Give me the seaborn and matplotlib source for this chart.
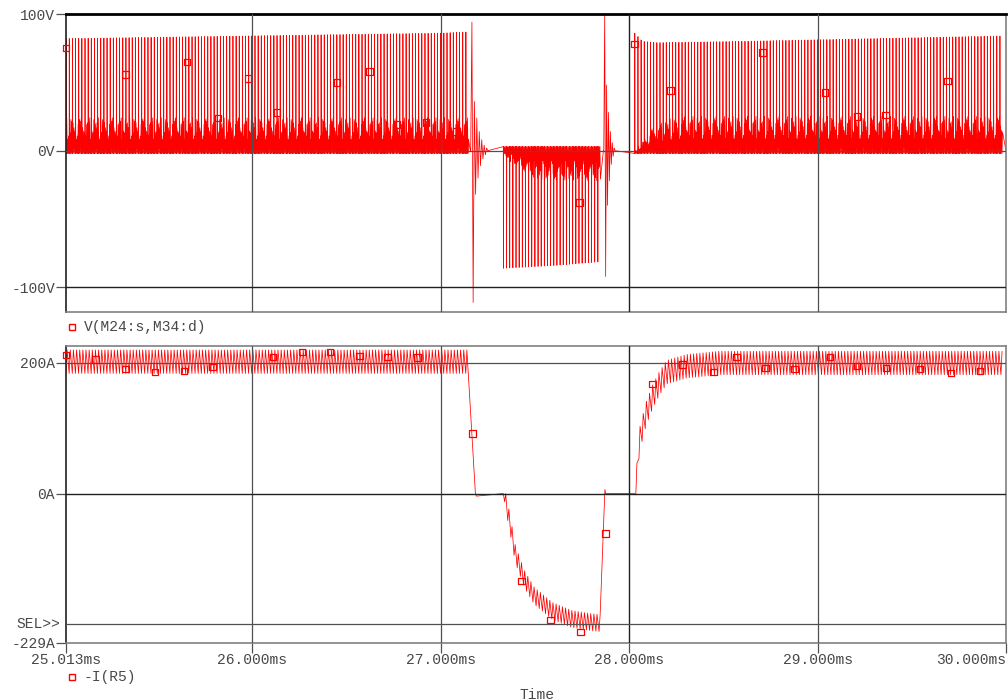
import numpy as np
import pandas as pd
import matplotlib
matplotlib.use("Agg")
import matplotlib.pyplot as plt
import seaborn as sns
from matplotlib.lines import Line2D

# =========================
# DATA
# =========================

T_START = 25.013
T_END = 30.0
SW_PERIOD = 0.0167          # ms, ~60 pulses per ms counted on the plot

# --- V(M24:s,M34:d) : switching blocks ---
v_blk_start = [25.013, 27.333, 28.030]
v_blk_end = [27.158, 27.864, 30.000]
v_base = [-2.0, 3.0, -2.0]
v_peak_t = [[25.013, 26.0, 27.0, 27.158],
            [27.333, 27.6, 27.864],
            [28.030, 28.07, 28.15, 28.6, 29.3, 30.0]]
v_peak_v = [[82, 84, 86, 87],
            [-86, -84, -81],
            [86, 80, 79, 80, 82, 84]]
v_band_t = [[25.013, 27.158],
            [27.333, 27.40, 27.50, 27.864],
            [28.030, 28.11, 28.20, 28.30, 30.0]]
v_band_v = [[24, 24],
            [-4, -12, -21, -22],
            [0, 16, 23, 25, 25]]
band_pattern = [1.0, 0.55, 0.85, 0.35, 0.95, 0.7, 0.45, 0.9, 0.6, 0.8]

# --- V : ringing at the two commutations ---
ring_t0 = [27.160, 27.866]
ring_dt = [0.0065, 0.005]
ring_v = [[0, 94, -111, 36, -32, 24, -20, 14, -11, 8, -6, 4, -3, 2, 0],
          [0, 100, -92, 48, -40, 28, -22, 14, -10, 6, -4, 2, 0]]

# --- -I(R5) : mean current and ripple ---
i_mean_t = [25.013, 27.165, 27.185, 27.190, 27.333, 27.340, 27.365, 27.397,
            27.445, 27.498, 27.594, 27.695, 27.796, 27.865, 27.872, 27.876,
            28.030, 28.036, 28.045, 28.056, 28.090, 28.125, 28.160, 28.200,
            28.305, 28.480, 30.0]
i_mean_v = [202, 202, 0, -4, 0, -5, -40, -93,
            -131, -157, -180, -192, -197, -199, 6, 0,
            0, 5, 47, 82, 122, 148, 168, 186,
            195, 200, 200]
i_rip_t = [25.013, 27.165, 27.185, 27.333, 27.345, 27.865, 27.872, 28.030, 28.045, 30.0]
i_rip_v = [18, 18, 0, 0, 13, 13, 0, 0, 18, 18]
i_sw_start = [25.013, 27.340, 28.036]
i_sw_end = [27.165, 27.865, 30.0]

# --- trace markers (hollow squares) ---
v_mark_t = [25.013, 25.330, 25.655, 25.820, 25.979, 26.133, 26.452, 26.622,
            26.770, 26.924, 27.084, 27.737, 28.030, 28.220, 28.385, 28.550,
            28.709, 28.890, 29.040, 29.210, 29.360, 29.690, 29.850, 29.850]
v_mark_v = [75, 55.7, 65, 24, 52.7, 27.8, 50, 58,
            19, 20.5, 14, -38, 78, 44, 5.9, 1.5,
            71.8, 3, 42.5, 25, 26, 51, 10, 3]
i_mark_t = [25.013, 25.170, 25.330, 25.485, 25.640, 25.790, 26.111, 26.265,
            26.414, 26.569, 26.718, 26.877, 27.169, 27.429, 27.583, 27.742,
            27.875, 28.125, 28.284, 28.449, 28.571, 28.725, 28.879, 29.065,
            29.209, 29.363, 29.543, 29.708, 29.862]
i_mark_v = [212, 205, 191, 186, 188, 194, 209, 217,
            217, 211, 209, 208, 92, -134, -194, -212,
            -61, 168, 198, 186, 209, 192, 191, 209,
            195, 192, 191, 185, 188]

x_ticks = [25.013, 26.0, 27.0, 28.0, 29.0, 30.0]
x_labels = ["25.013ms", "26.000ms", "27.000ms", "28.000ms", "29.000ms", "30.000ms"]
v_ticks = [100, 0, -100]
v_labels = ["100V", "0V", "-100V"]
i_ticks = [200, 0, -229]
i_labels = ["200A", "0A", "-229A"]

# =========================
# BUILD TRACES
# =========================

v_t, v_v = [], []
k = 0
for b in range(3):
    n = int((v_blk_end[b] - v_blk_start[b]) / SW_PERIOD)
    for p in range(n):
        t0 = v_blk_start[b] + p * SW_PERIOD
        pk = np.interp(t0, v_peak_t[b], v_peak_v[b])
        bd = np.interp(t0, v_band_t[b], v_band_v[b])
        base = v_base[b]
        offs = [0.0, 0.04, 0.10, 0.25, 0.40, 0.55, 0.70, 0.85]
        lev = [base, pk, base,
               bd * band_pattern[k % 10], base,
               bd * band_pattern[(k + 3) % 10], base,
               bd * band_pattern[(k + 6) % 10]]
        k += 1
        for o, l in zip(offs, lev):
            v_t.append(t0 + o * SW_PERIOD)
            v_v.append(l)
    v_t.append(v_blk_end[b])
    v_v.append(0)
    if b < 2:
        for j, val in enumerate(ring_v[b]):
            v_t.append(ring_t0[b] + j * ring_dt[b])
            v_v.append(val)

i_t, i_v = [], []
for s in range(3):
    # flat part before this switching block
    if s > 0:
        for tt, vv in zip(i_mean_t, i_mean_v):
            if i_sw_end[s - 1] < tt < i_sw_start[s]:
                i_t.append(tt)
                i_v.append(vv)
    n = int((i_sw_end[s] - i_sw_start[s]) / SW_PERIOD)
    for p in range(n):
        t0 = i_sw_start[s] + p * SW_PERIOD
        for frac, sign in [(0.0, -1), (0.35, 1)]:
            tt = t0 + frac * SW_PERIOD
            m = np.interp(tt, i_mean_t, i_mean_v)
            a = np.interp(tt, i_rip_t, i_rip_v)
            i_t.append(tt)
            i_v.append(m + sign * a)

df_v = pd.DataFrame({"t": v_t, "v": v_v})
df_i = pd.DataFrame({"t": i_t, "i": i_v})

# =========================
# PLOT
# =========================

sns.set_style("white")
plt.rcParams["font.family"] = ["Liberation Mono", "DejaVu Sans Mono"]

RED = "#ff0000"
GRID = "#505050"
TXT = "#484848"

fig = plt.figure(figsize=(10.08, 7.0), dpi=100)
ax1 = fig.add_axes([66 / 1008, 1 - 312 / 700, 940 / 1008, 298 / 700])
ax2 = fig.add_axes([66 / 1008, 1 - 643 / 700, 940 / 1008, 297 / 700])

sns.lineplot(data=df_v, x="t", y="v", ax=ax1, color=RED, lw=0.55,
             estimator=None, sort=False, zorder=2)
sns.lineplot(data=df_i, x="t", y="i", ax=ax2, color=RED, lw=0.55,
             estimator=None, sort=False, zorder=2)

ax1.scatter(v_mark_t, v_mark_v, marker="s", s=22, facecolors="none",
            edgecolors=RED, linewidths=0.9, zorder=4, clip_on=False)
ax2.scatter(i_mark_t, i_mark_v, marker="s", s=22, facecolors="none",
            edgecolors=RED, linewidths=0.9, zorder=4, clip_on=False)

ax1.set_ylim(-118, 100)
ax2.set_ylim(-229, 226)

for ax in (ax1, ax2):
    ax.set_xlim(T_START, T_END)
    ax.set_xlabel("")
    ax.set_ylabel("")
    for xv in [26, 27, 29]:
        ax.axvline(xv, color=GRID, lw=0.9, zorder=3)
    ax.axvline(28, color="#202020", lw=1.0, zorder=3)
    ax.spines["left"].set_color("#202020")
    ax.spines["left"].set_linewidth(1.2)
    for sp in ("bottom", "right"):
        ax.spines[sp].set_color("#808080")
        ax.spines[sp].set_linewidth(1.2)
    ax.tick_params(axis="y", direction="out", length=7, width=0.9,
                   color=GRID, labelcolor=TXT, labelsize=10.5, pad=1, left=True)

ax1.spines["top"].set_color("black")
ax1.spines["top"].set_linewidth(2)
ax2.spines["top"].set_color("#808080")
ax2.spines["top"].set_linewidth(1.2)

ax1.axhline(0, color=GRID, lw=0.9, zorder=3)
ax1.axhline(-100, color="#202020", lw=1.0, zorder=3)
ax2.axhline(200, color=GRID, lw=0.9, zorder=3)
ax2.axhline(0, color="#202020", lw=1.0, zorder=3)
ax2.axhline(-200, color=GRID, lw=0.9, zorder=3)

ax1.set_yticks(v_ticks)
ax1.set_yticklabels(v_labels)
ax1.set_xticks([])
ax2.set_yticks(i_ticks)
ax2.set_yticklabels(i_labels)
ax2.set_xticks(x_ticks)
ax2.set_xticklabels(x_labels)
ax2.tick_params(axis="x", direction="out", length=7, width=0.9,
                color=GRID, labelcolor=TXT, labelsize=10.5, pad=0, bottom=True)
ax2.get_xticklabels()[-1].set_ha("right")

ax2.text(-0.006, -200, "SEL>>", transform=ax2.get_yaxis_transform(),
         ha="right", va="center", color=TXT, fontsize=10.5)

# trace legends
for y_px, label in [(327, "V(M24:s,M34:d)"), (677, "-I(R5)")]:
    yf = 1 - y_px / 700
    fig.add_artist(Line2D([72 / 1008], [yf], marker="s", ms=5, mfc="none",
                          mec=RED, mew=1.0, ls="", transform=fig.transFigure))
    fig.text(84 / 1008, yf, label, color=TXT, fontsize=10.5, va="center")

fig.text(537 / 1008, 1 - 688 / 700, "Time", color=TXT, fontsize=10.5,
         ha="center", va="top")

plt.savefig("out.png", dpi=100)
